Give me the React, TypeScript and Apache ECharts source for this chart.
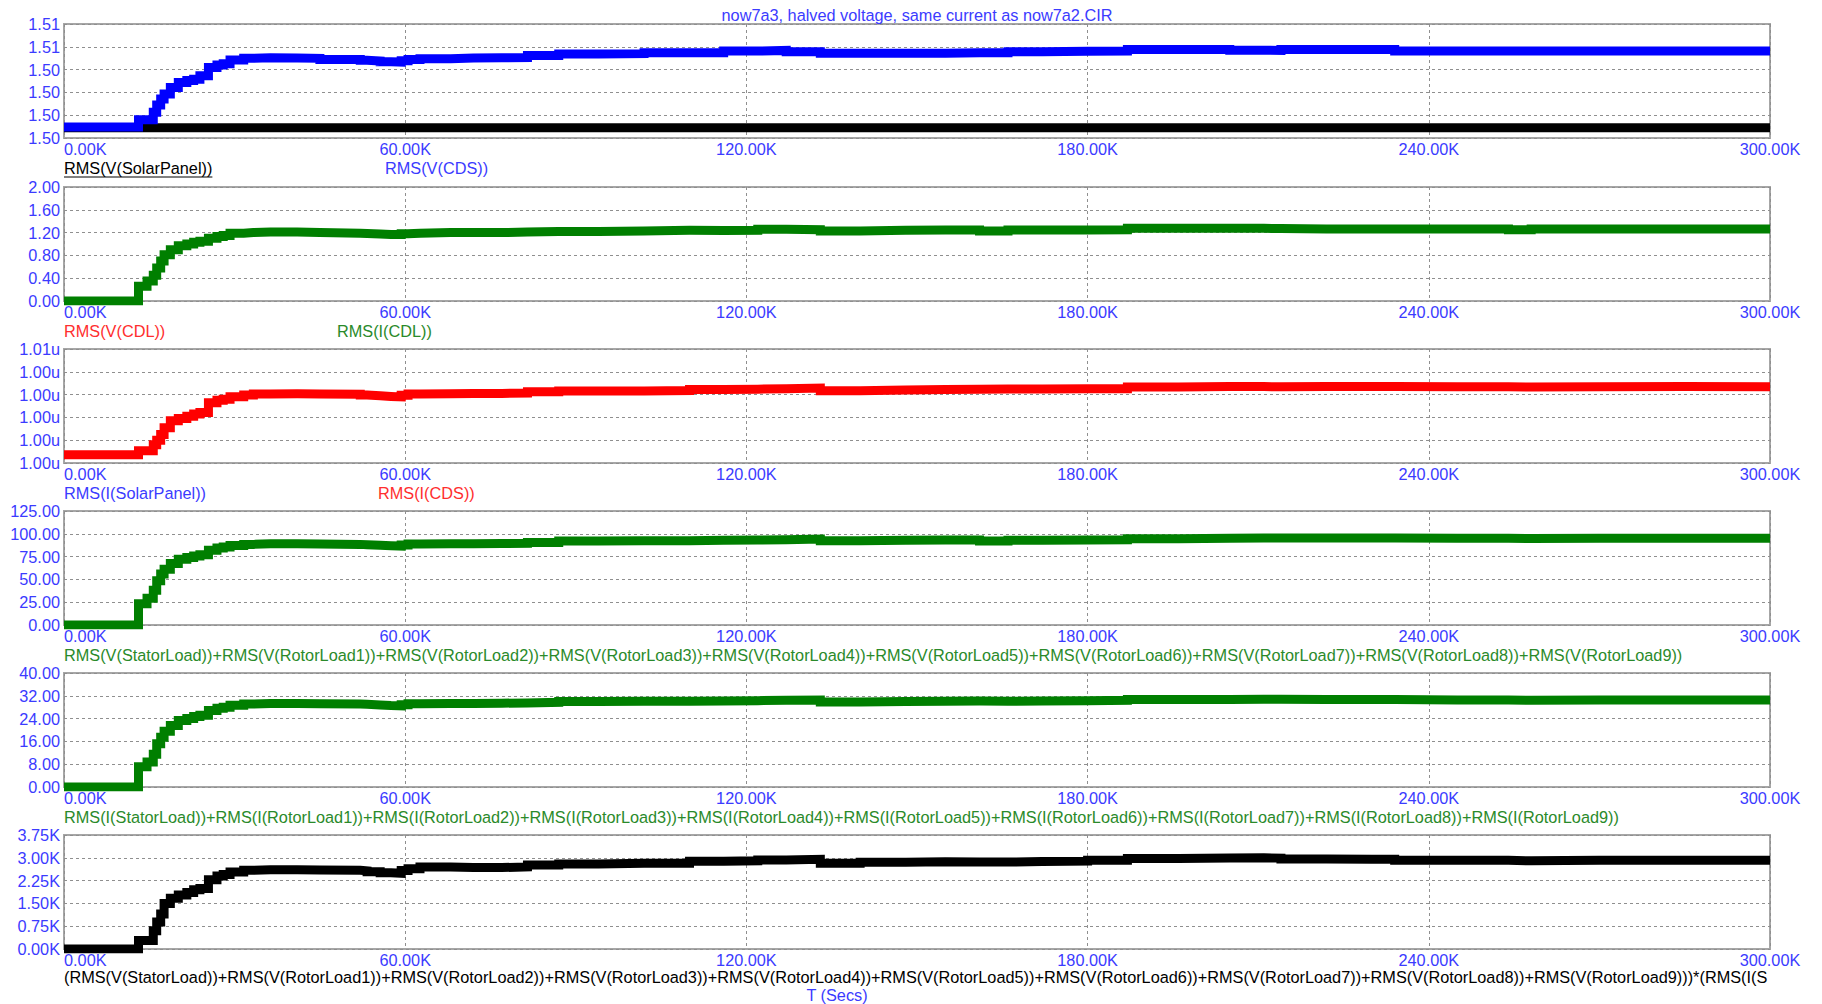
import React, { useEffect, useRef } from "react";
import * as echarts from "echarts";

const FONT = "'Liberation Sans', Arial, sans-serif";

// Simulation time samples, seconds
const timeSec = [
  0, 13100, 14600, 15700, 16300, 17000, 17600, 18700, 20100, 21600,
  22800, 23900, 25400, 26900, 28000, 29200, 31600, 33300, 36300, 41000,
  45000, 52100, 53300, 55600, 57500, 59300, 60500, 62600, 68000, 72000,
  77000, 81500, 87000, 94000, 102000, 110000, 116000, 122000, 127000, 133000,
  140000, 148000, 155000, 161000, 166000, 172000, 180000, 187000, 196000, 205000,
  211000, 214000, 222000, 230000, 234000, 245000, 254000, 258000, 270000, 285000,
  300000,
];

// RMS(V(CDS)), volts
const cdsVoltage = [
  1.50072, 1.5012, 1.5012, 1.5017, 1.50217, 1.50257, 1.50289, 1.50333, 1.50365, 1.50378,
  1.50387, 1.50409, 1.50463, 1.5048, 1.50489, 1.50513, 1.50524, 1.50528, 1.50526, 1.50524,
  1.50517, 1.50511, 1.50507, 1.50502, 1.505, 1.50509, 1.50517, 1.50522, 1.50526, 1.50528,
  1.5053, 1.50542, 1.50552, 1.50555, 1.50561, 1.50561, 1.50572, 1.50576, 1.50567, 1.50557,
  1.50557, 1.50557, 1.50561, 1.50561, 1.50567, 1.5057, 1.50572, 1.50583, 1.50583, 1.50578,
  1.50576, 1.50583, 1.50583, 1.50583, 1.50572, 1.50572, 1.50572, 1.50572, 1.50572, 1.50572,
  1.50572,
];

// RMS(V(SolarPanel)), volts (flat over the run)
const solarPanelTime = [0, 300000];
const solarPanelVoltage = [1.50067, 1.50067];

// RMS(I(CDL)), amps
const cdlCurrent = [
  0, 0.26, 0.35, 0.45, 0.58, 0.7, 0.81, 0.9, 0.97, 1.0,
  1.03, 1.05, 1.1, 1.13, 1.15, 1.19, 1.2, 1.21, 1.21, 1.2,
  1.19, 1.185, 1.175, 1.165, 1.165, 1.18, 1.19, 1.2, 1.2, 1.2,
  1.21, 1.22, 1.22, 1.23, 1.24, 1.235, 1.24, 1.258, 1.25, 1.23,
  1.24, 1.245, 1.245, 1.23, 1.245, 1.245, 1.25, 1.275, 1.275, 1.275,
  1.27, 1.265, 1.265, 1.265, 1.265, 1.265, 1.25, 1.265, 1.265, 1.265,
  1.265,
];

// RMS(I(CDS)), microamps
const cdsCurrent = [
  1.00036, 1.00054, 1.00054, 1.0008, 1.001, 1.00125, 1.00155, 1.00185, 1.00195, 1.00205,
  1.00215, 1.00222, 1.00264, 1.00275, 1.0028, 1.00291, 1.00298, 1.00303, 1.00304, 1.00303,
  1.00302, 1.00298, 1.00295, 1.00292, 1.0029, 1.00297, 1.00303, 1.00304, 1.00305, 1.00305,
  1.00307, 1.00312, 1.00316, 1.00316, 1.00318, 1.00322, 1.00324, 1.00326, 1.00329, 1.00317,
  1.0032, 1.00322, 1.00323, 1.00325, 1.00325, 1.00326, 1.00326, 1.00333, 1.00335, 1.00335,
  1.00334, 1.00336, 1.00336, 1.00336, 1.00334, 1.00334, 1.00333, 1.00334, 1.00335, 1.00334,
  1.00334,
];

// Sum of stator + rotor load RMS voltages
const loadVoltageSum = [
  0, 23.2, 29.3, 38, 48.6, 56, 61.2, 67.4, 72.1, 74,
  75.7, 77, 81.9, 84.5, 85.5, 87.3, 88.4, 89.1, 89.1, 88.8,
  88.4, 88, 87.5, 87, 86.6, 87.7, 88.8, 89.1, 89.1, 89.3,
  89.6, 90.4, 92, 92.4, 92.4, 92.8, 93.1, 93.5, 94.2, 92.4,
  92.8, 93.1, 93.1, 92, 92.8, 93.1, 93.5, 94.6, 95, 95.3,
  95.3, 95.3, 95.3, 95.3, 95, 95, 94.8, 95, 95, 95,
  95,
];

// Sum of stator + rotor load RMS currents
const loadCurrentSum = [
  0, 7.1, 8.8, 11.5, 15.2, 17.5, 19.6, 21.6, 23.3, 24,
  24.7, 25.2, 26.8, 27.6, 28, 28.7, 29.1, 29.3, 29.3, 29.2,
  29.1, 29, 28.8, 28.6, 28.5, 28.9, 29.2, 29.3, 29.3, 29.4,
  29.5, 29.7, 30, 30.1, 30.1, 30.2, 30.3, 30.4, 30.5, 29.8,
  30, 30.1, 30.2, 30.1, 30.2, 30.3, 30.4, 30.7, 30.7, 30.8,
  30.8, 30.7, 30.7, 30.7, 30.5, 30.5, 30.4, 30.5, 30.5, 30.5,
  30.5,
];

// Voltage sum times current sum
const loadProduct = [
  0, 280, 280, 600, 890, 1150, 1500, 1670, 1780, 1860,
  1950, 1990, 2280, 2400, 2450, 2530, 2590, 2610, 2610, 2600,
  2590, 2570, 2540, 2510, 2490, 2580, 2640, 2700, 2680, 2680,
  2700, 2760, 2800, 2820, 2820, 2890, 2900, 2930, 2950, 2820,
  2850, 2870, 2860, 2860, 2880, 2890, 2920, 2980, 2990, 3000,
  2990, 2960, 2950, 2950, 2920, 2920, 2900, 2920, 2920, 2920,
  2920,
];

// Tick labels
const xTickLabels = ["0.00K", "60.00K", "120.00K", "180.00K", "240.00K", "300.00K"];
const yTicksPanel1 = ["1.50", "1.50", "1.50", "1.50", "1.51", "1.51"];
const yTicksPanel2 = ["0.00", "0.40", "0.80", "1.20", "1.60", "2.00"];
const yTicksPanel3 = ["1.00u", "1.00u", "1.00u", "1.00u", "1.00u", "1.01u"];
const yTicksPanel4 = ["0.00", "25.00", "50.00", "75.00", "100.00", "125.00"];
const yTicksPanel5 = ["0.00", "8.00", "16.00", "24.00", "32.00", "40.00"];
const yTicksPanel6 = ["0.00K", "0.75K", "1.50K", "2.25K", "3.00K", "3.75K"];

const titleText = "now7a3, halved voltage, same current as now7a2.CIR";
const loadVoltageName =
  "RMS(V(StatorLoad))+RMS(V(RotorLoad1))+RMS(V(RotorLoad2))+RMS(V(RotorLoad3))+RMS(V(RotorLoad4))+RMS(V(RotorLoad5))+RMS(V(RotorLoad6))+RMS(V(RotorLoad7))+RMS(V(RotorLoad8))+RMS(V(RotorLoad9))";
const loadCurrentName =
  "RMS(I(StatorLoad))+RMS(I(RotorLoad1))+RMS(I(RotorLoad2))+RMS(I(RotorLoad3))+RMS(I(RotorLoad4))+RMS(I(RotorLoad5))+RMS(I(RotorLoad6))+RMS(I(RotorLoad7))+RMS(I(RotorLoad8))+RMS(I(RotorLoad9))";
const loadProductName = "(" + loadVoltageName + ")*(" + loadCurrentName + ")";

// Colours
const BLUE_TEXT = "#3b3bff";
const RED_TEXT = "#ff2e2e";
const GREEN_TEXT = "#2a8a2a";
const TRACE_BLUE = "#0000ff";
const TRACE_GREEN = "#007f00";
const TRACE_RED = "#ff0000";
const TRACE_BLACK = "#000000";

// Layout
const PLOT_LEFT = 64;
const PLOT_WIDTH = 1706;
const PLOT_HEIGHT = 114;
const panelTops = [24, 187, 349, 511, 673, 835];
const FONT_SIZE = 16.3;

const yScales = [
  { min: 1.5, max: 1.5075, interval: 0.0015, labels: yTicksPanel1 },
  { min: 0, max: 2, interval: 0.4, labels: yTicksPanel2 },
  { min: 1.0, max: 1.005, interval: 0.001, labels: yTicksPanel3 },
  { min: 0, max: 125, interval: 25, labels: yTicksPanel4 },
  { min: 0, max: 40, interval: 8, labels: yTicksPanel5 },
  { min: 0, max: 3750, interval: 750, labels: yTicksPanel6 },
];

const traces = [
  { panel: 0, name: "RMS(V(SolarPanel))", t: solarPanelTime, v: solarPanelVoltage, color: TRACE_BLACK },
  { panel: 0, name: "RMS(V(CDS))", t: timeSec, v: cdsVoltage, color: TRACE_BLUE },
  { panel: 1, name: "RMS(I(CDL))", t: timeSec, v: cdlCurrent, color: TRACE_GREEN },
  { panel: 2, name: "RMS(I(CDS))", t: timeSec, v: cdsCurrent, color: TRACE_RED },
  { panel: 3, name: "loadVoltageSum", t: timeSec, v: loadVoltageSum, color: TRACE_GREEN },
  { panel: 4, name: "loadCurrentSum", t: timeSec, v: loadCurrentSum, color: TRACE_GREEN },
  { panel: 5, name: "loadProduct", t: timeSec, v: loadProduct, color: TRACE_BLACK },
];

function measure(text: string): number {
  const ctx = document.createElement("canvas").getContext("2d");
  if (!ctx) return text.length * 8;
  ctx.font = `${FONT_SIZE}px ${FONT}`;
  return ctx.measureText(text).width;
}

function label(text: string, x: number, y: number, fill: string, extra: any = {}) {
  return {
    type: "text",
    x,
    y,
    silent: true,
    style: {
      text,
      fill,
      fontSize: FONT_SIZE,
      fontFamily: FONT,
      verticalAlign: "middle",
      align: "left",
      ...extra,
    },
  };
}

export default function App() {
  const ref = useRef<HTMLDivElement>(null);

  useEffect(() => {
    const el = ref.current;
    if (!el) return;
    const chart = echarts.init(el, null, { renderer: "svg" });

    const grid = panelTops.map((top) => ({
      left: PLOT_LEFT,
      top,
      width: PLOT_WIDTH,
      height: PLOT_HEIGHT,
      show: true,
      borderColor: "#a6a6a6",
      borderWidth: 2,
      backgroundColor: "transparent",
    }));

    const splitStyle = { show: true, lineStyle: { color: "#8f8f8f", width: 1, type: [3, 3] as any } };

    const xAxis = panelTops.map((_, i) => ({
      type: "value",
      gridIndex: i,
      min: 0,
      max: 300000,
      interval: 60000,
      axisLine: { show: false },
      axisTick: { show: false },
      splitLine: splitStyle,
      axisLabel: {
        color: BLUE_TEXT,
        fontSize: FONT_SIZE,
        fontFamily: FONT,
        margin: 3,
        alignMinLabel: "left",
        showMinLabel: true,
        showMaxLabel: true,
        formatter: (v: number) => xTickLabels[Math.round(v / 60000)] ?? "",
      },
    }));

    const yAxis = yScales.map((s, i) => ({
      type: "value",
      gridIndex: i,
      min: s.min,
      max: s.max,
      interval: s.interval,
      axisLine: { show: false },
      axisTick: { show: false },
      splitLine: splitStyle,
      axisLabel: {
        color: BLUE_TEXT,
        fontSize: FONT_SIZE,
        fontFamily: FONT,
        margin: 4,
        showMinLabel: true,
        showMaxLabel: true,
        formatter: (v: number) => s.labels[Math.round((v - s.min) / s.interval)] ?? "",
      },
    }));

    const series = traces.map((tr) => ({
      type: "line",
      name: tr.name,
      xAxisIndex: tr.panel,
      yAxisIndex: tr.panel,
      data: tr.t.map((t, k) => [t, tr.v[k]]),
      step: "end",
      symbol: "none",
      showSymbol: false,
      silent: true,
      clip: true,
      lineStyle: { color: tr.color, width: 9, cap: "butt", join: "miter" },
      itemStyle: { color: tr.color },
    }));

    const nameY = (i: number) => panelTops[i] + PLOT_HEIGHT + 30;
    const solarName = "RMS(V(SolarPanel))";
    const solarW = measure(solarName);

    const graphic: any[] = [
      label(titleText, 917, 15, BLUE_TEXT, { align: "center" }),
      label(solarName, PLOT_LEFT, nameY(0), "#000000"),
      {
        type: "line",
        silent: true,
        shape: { x1: PLOT_LEFT, y1: nameY(0) + 9, x2: PLOT_LEFT + solarW, y2: nameY(0) + 9 },
        style: { stroke: "#000000", lineWidth: 1 },
      },
      label("RMS(V(CDS))", 385, nameY(0), BLUE_TEXT),
      label("RMS(V(CDL))", PLOT_LEFT, nameY(1), RED_TEXT),
      label("RMS(I(CDL))", 337, nameY(1), GREEN_TEXT),
      label("RMS(I(SolarPanel))", PLOT_LEFT, nameY(2), BLUE_TEXT),
      label("RMS(I(CDS))", 378, nameY(2), RED_TEXT),
      label(loadVoltageName, PLOT_LEFT, nameY(3), GREEN_TEXT),
      label(loadCurrentName, PLOT_LEFT, nameY(4), GREEN_TEXT),
      label(loadProductName, PLOT_LEFT, nameY(5) - 2, "#000000", {
        width: PLOT_WIDTH,
        overflow: "truncate",
        ellipsis: "",
      }),
      label("T (Secs)", 837, 995, BLUE_TEXT, { align: "center" }),
    ];

    chart.setOption({
      animation: false,
      backgroundColor: "#ffffff",
      grid,
      xAxis,
      yAxis,
      series,
      graphic,
    });

    return () => chart.dispose();
  }, []);

  return (
    <div
      ref={ref}
      style={{ position: "fixed", left: 0, top: 0, width: 1822, height: 1004, background: "#ffffff" }}
    />
  );
}
